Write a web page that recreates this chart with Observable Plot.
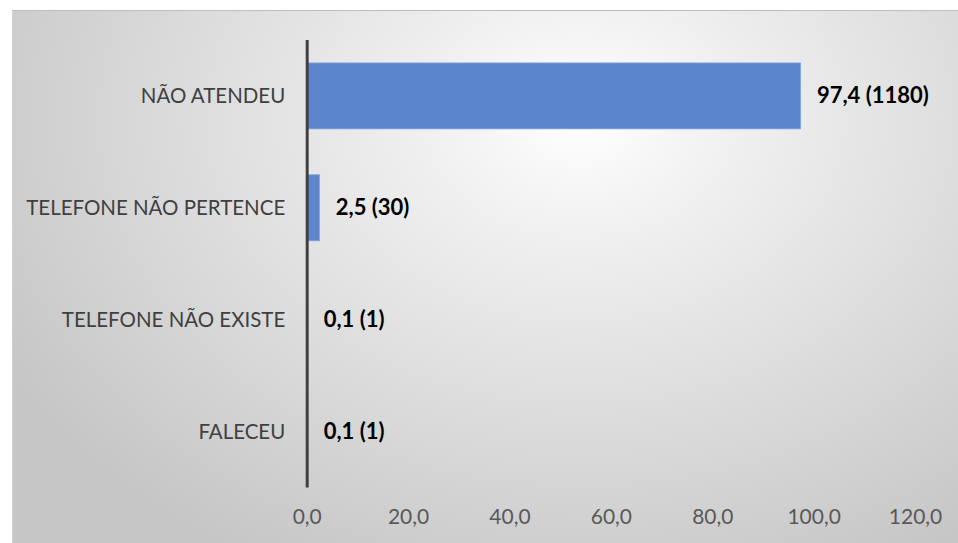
<!DOCTYPE html>
<html><head><meta charset="utf-8">
<script src="https://cdn.jsdelivr.net/npm/d3@7"></script>
<script src="https://cdn.jsdelivr.net/npm/@observablehq/plot@0.6"></script>
<style>
body{margin:0;background:#fff;}
#panel{position:absolute;left:12px;top:10px;width:946px;height:533px;
  background:radial-gradient(ellipse 70% 95% at 60% 20%, #ffffff 0%, #f2f2f2 20%, #c6c6c6 100%);
  border-top:1px solid #bdbdbd;border-left:1px solid #cfcfcf;box-sizing:border-box;}
#panel svg{position:absolute;left:-1px;top:-1px;}
</style></head><body><div id="panel"></div>
<script>
const categories = ["NÃO ATENDEU", "TELEFONE NÃO PERTENCE", "TELEFONE NÃO EXISTE", "FALECEU"];
const percents = [97.4, 2.5, 0.1, 0.1];
const counts = [1180, 30, 1, 1];
const xTicks = [0, 20, 40, 60, 80, 100, 120];

const loc = d3.formatLocale({decimal: ",", thousands: ".", grouping: [3], currency: ["", ""]});
const fmt = loc.format(".1f");

const data = categories.map((c, i) => ({cat: c, pct: percents[i], n: counts[i]}));

const chart = Plot.plot({
  width: 946,
  height: 533,
  marginLeft: 295,
  marginRight: 42,
  marginTop: 30,
  marginBottom: 55,
  x: {domain: [0, 120], ticks: xTicks, tickFormat: fmt},
  y: {domain: categories, paddingInner: 0.41, paddingOuter: 0.205},
  style: {background: "transparent", fontFamily: "Lato, 'Open Sans', sans-serif", fontSize: "20px"},
  marks: [
    Plot.barX(data, {x: "pct", y: "cat", fill: "#5b86cd", stroke: "#7ea0da", strokeWidth: 0.8}),
    Plot.ruleX([0], {stroke: "#404040", strokeWidth: 3}),
    Plot.axisX({ticks: xTicks, tickFormat: fmt, tickSize: 0, tickPadding: 21, label: null, color: "#595959", fontSize: 21}),
    Plot.axisY({tickSize: 0, tickPadding: 22, label: null, color: "#404040", fontSize: 20.5}),
    Plot.text(data, {x: "pct", y: "cat", text: d => `${fmt(d.pct)} (${d.n})`, textAnchor: "start", dx: 16, fontWeight: "bold", fontSize: 22, fill: "#000"})
  ]
});
document.getElementById("panel").appendChild(chart);
</script>
</body></html>
